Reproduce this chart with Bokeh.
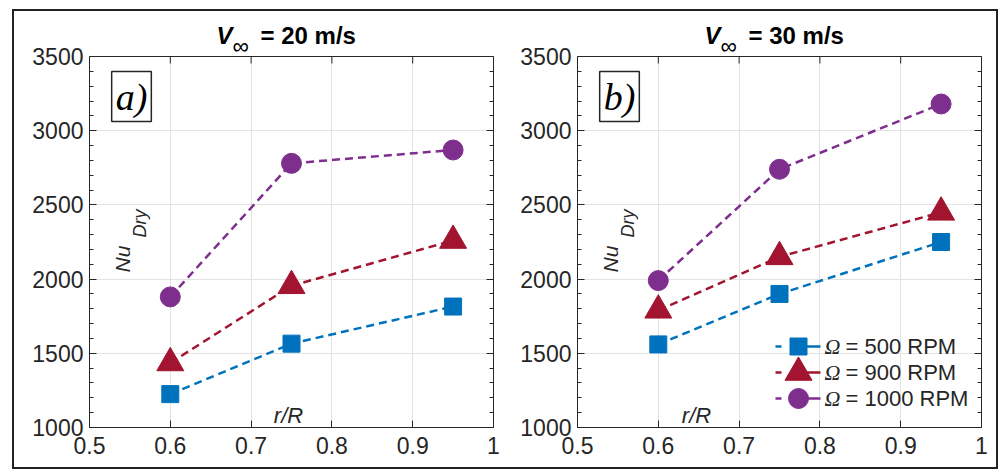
from bokeh.plotting import figure
from bokeh.models import Range1d, FixedTicker, LinearAxis, Label, Span, BoxAnnotation
from bokeh.layouts import row
from bokeh.embed import file_html
from bokeh.resources import INLINE

# radial station and dry Nusselt numbers per rotor speed
r_over_R = [0.6, 0.75, 0.95]
rpm_labels = ["500", "900", "1000"]

nu_20_500 = [1225, 1565, 1815]
nu_20_900 = [1435, 1955, 2260]
nu_20_1000 = [1880, 2780, 2870]

nu_30_500 = [1560, 1900, 2250]
nu_30_900 = [1790, 2150, 2450]
nu_30_1000 = [1990, 2740, 3180]

x_ticks = [0.5, 0.6, 0.7, 0.8, 0.9, 1.0]
y_ticks = [1000, 1500, 2000, 2500, 3000, 3500]
y_minor = list(range(1000, 3501, 100))
Y_LO, Y_HI = 1000, 3500

colors = ["#0072BD", "#A2142F", "#7E2F8E"]
markers = ["square", "triangle", "circle"]
sizes = [17, 27, 20]

INK = "#262626"
FONT = "Liberation Sans"
FRAME_W, FRAME_H = 404, 371   # size of the axes box in pixels
HEAD = 45                      # headroom above the box for the panel title
FOOT = 40


def panel(series, tag, speed, left_pad, right_pad, rlabel_px, with_legend):
    # the frame reaches up into the headroom so the title can live inside it
    y_top = Y_LO + (Y_HI - Y_LO) * (FRAME_H + HEAD) / FRAME_H
    p = figure(width=left_pad + FRAME_W + right_pad, height=HEAD + FRAME_H + FOOT,
               x_range=Range1d(0.5, 1.0), y_range=Range1d(Y_LO, y_top),
               output_backend="svg", toolbar_location=None,
               min_border_left=left_pad, min_border_right=right_pad,
               min_border_top=0, min_border_bottom=FOOT)
    p.outline_line_color = None
    p.background_fill_color = "white"
    p.border_fill_color = "white"

    p.xaxis.ticker = FixedTicker(ticks=x_ticks)
    p.xaxis.major_label_overrides = {1: "1", 1.0: "1"}
    p.yaxis.ticker = FixedTicker(ticks=y_ticks, minor_ticks=y_minor)
    p.yaxis.bounds = (Y_LO, Y_HI)
    for ax in (p.xaxis[0], p.yaxis[0]):
        ax.axis_line_color = INK
        ax.major_tick_line_color = INK
        ax.minor_tick_line_color = INK
        ax.major_tick_in = 7
        ax.major_tick_out = 0
        ax.minor_tick_in = 4
        ax.minor_tick_out = 0
        ax.major_label_text_font = FONT
        ax.major_label_text_font_size = "23px"
        ax.major_label_text_color = INK
    p.xaxis.major_label_standoff = 9
    p.yaxis.major_label_standoff = 6

    # right edge of the box with mirrored ticks
    right = LinearAxis(ticker=FixedTicker(ticks=y_ticks, minor_ticks=y_minor),
                       bounds=(Y_LO, Y_HI),
                       major_label_text_font_size="0px", major_label_text_color=None,
                       major_label_standoff=0, axis_line_color=INK,
                       major_tick_in=7, major_tick_out=0, minor_tick_in=4, minor_tick_out=0,
                       major_tick_line_color=INK, minor_tick_line_color=INK)
    p.add_layout(right, "right")

    p.xgrid.ticker = FixedTicker(ticks=x_ticks)
    p.ygrid.ticker = FixedTicker(ticks=y_ticks)
    p.grid.grid_line_color = "#e3e3e3"
    p.grid.grid_line_width = 1

    for vals, c, m, s in zip(series, colors, markers, sizes):
        p.line(r_over_R, vals, line_color=c, line_width=2.5, line_dash="8 5")
        p.scatter(r_over_R, vals, marker=m, size=s, fill_color=c, line_color=c)

    # pixel offsets inside the box -> data coordinates
    def dx(px):
        return 0.5 + px / FRAME_W * 0.5

    def dy(py):
        return Y_HI - py / FRAME_H * (Y_HI - Y_LO)

    # blank the headroom, then close the box on top with mirrored ticks
    p.add_layout(BoxAnnotation(bottom=Y_HI, fill_color="white", fill_alpha=1,
                               line_color=None))
    p.add_layout(Span(location=Y_HI, dimension="width", line_color=INK, line_width=1))
    tick_len = 7 / FRAME_H * (Y_HI - Y_LO)
    p.segment(x0=x_ticks, y0=[Y_HI] * len(x_ticks), x1=x_ticks,
              y1=[Y_HI - tick_len] * len(x_ticks), line_color=INK, line_width=1)

    # title: V_inf = .. m/s
    p.add_layout(Label(x=dx(127), y=dy(-21), text="V", text_font=FONT,
                       text_font_size="24px", text_font_style="bold italic",
                       text_color="black", text_baseline="alphabetic"))
    p.add_layout(Label(x=dx(143), y=dy(-11), text="∞", text_font=FONT,
                       text_font_size="23px", text_color="black",
                       text_baseline="alphabetic"))
    p.add_layout(Label(x=dx(171), y=dy(-21), text=f"= {speed} m/s", text_font=FONT,
                       text_font_size="24px", text_font_style="bold",
                       text_color="black", text_baseline="alphabetic"))

    # panel tag in a box
    p.add_layout(Label(x=dx(42), y=dy(40), text=tag, text_font="Liberation Serif",
                       text_font_size="38px", text_font_style="italic",
                       text_color="black", text_align="center", text_baseline="middle",
                       border_line_color=INK, border_line_width=1.5,
                       background_fill_color="white", padding=4))

    # axis titles drawn inside the box
    p.add_layout(Label(x=dx(33), y=dy(216), text="Nu", angle=90, angle_units="deg",
                       text_font=FONT, text_font_size="21px", text_font_style="italic",
                       text_color=INK, text_baseline="alphabetic"))
    p.add_layout(Label(x=dx(50), y=dy(181), text="Dry", angle=90, angle_units="deg",
                       text_font=FONT, text_font_size="18px", text_font_style="italic",
                       text_color=INK, text_baseline="alphabetic"))
    p.add_layout(Label(x=dx(rlabel_px), y=dy(359), text="r/R",
                       text_font=FONT, text_font_size="22px", text_font_style="italic",
                       text_color=INK, text_align="center", text_baseline="alphabetic"))

    if with_legend:
        for i, (lab, c, m, s) in enumerate(zip(rpm_labels, colors, markers, sizes)):
            ly = dy(290 + 26 * i)
            p.line([dx(198), dx(243)], [ly, ly], line_color=c, line_width=2.5,
                   line_dash="6 12 50")
            p.scatter([dx(221)], [ly], marker=m, size=s, fill_color=c, line_color=c)
            p.add_layout(Label(x=dx(247), y=ly, text="Ω", text_font="Liberation Serif",
                               text_font_size="22px", text_font_style="italic",
                               text_color=INK, text_baseline="middle"))
            p.add_layout(Label(x=dx(268), y=ly, text=f"= {lab} RPM", text_font=FONT,
                               text_font_size="22px", text_color=INK,
                               text_baseline="middle"))
    return p


p1 = panel([nu_20_500, nu_20_900, nu_20_1000], "a)", "20", 75, 7, 199, False)
p2 = panel([nu_30_500, nu_30_900, nu_30_1000], "b)", "30", 77, 15, 119, True)

layout = row(p1, p2, margin=(9, 0, 0, 12),
             styles={"border": "2px solid #222222"})

open("out.html", "w").write(file_html(layout, INLINE))
